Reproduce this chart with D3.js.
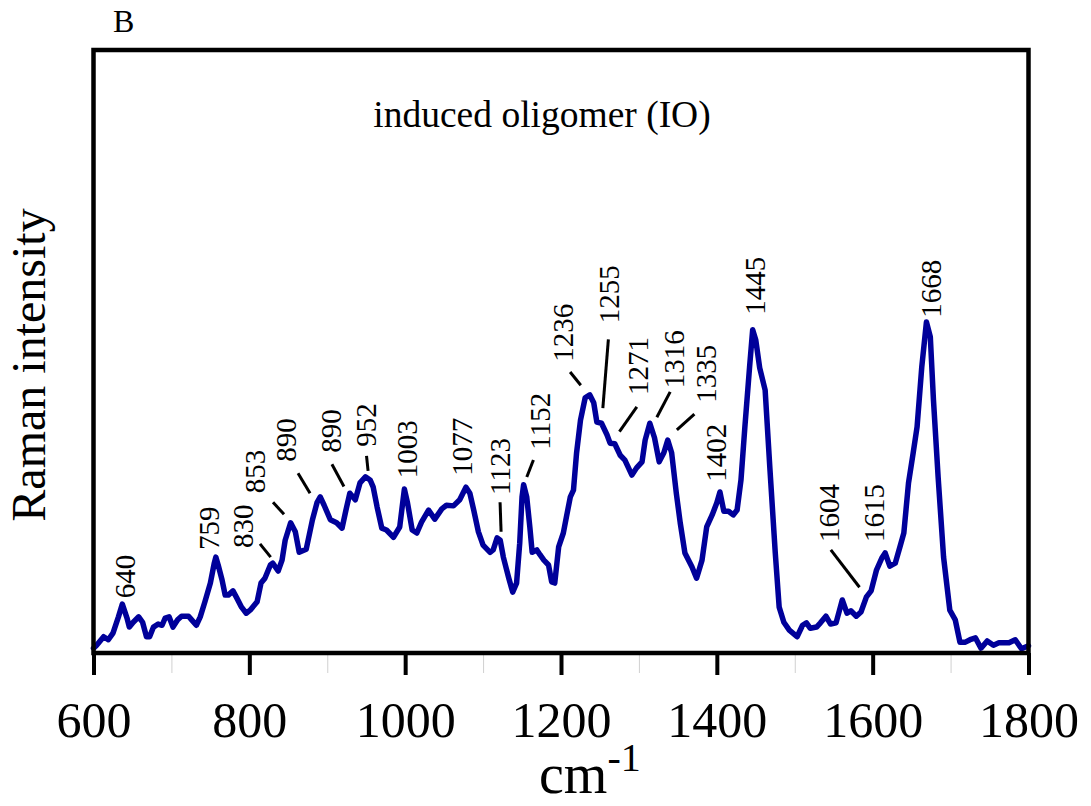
<!DOCTYPE html>
<html>
<head>
<meta charset="utf-8">
<script src="https://cdn.jsdelivr.net/npm/d3@7"></script>
<style>
  html, body { margin: 0; padding: 0; background: #fff; }
  svg { display: block; }
</style>
</head>
<body>
<svg id="chart" width="1091" height="806"></svg>
<script>
// Raman spectrum of the induced oligomer (IO): wavenumber (cm-1) and intensity (a.u.)
const wavenumber = [600,604,613,619,625,632,637,643,646,651,
  658,663,668,672,677,683,688,692,697,702,
  708,713,722,726,732,737,743,750,755,757,
  760,765,769,773,779,784,790,796,801,810,
  815,820,827,830,837,842,846,853,859,864,
  873,881,887,891,896,904,912,919,924,929,
  936,942,949,955,959,964,970,976,985,993,
  999,1003,1009,1015,1021,1030,1038,1047,1053,1062,
  1070,1078,1083,1088,1094,1100,1109,1113,1118,1122,
  1126,1133,1138,1143,1147,1150,1152,1156,1160,1163,
  1169,1173,1178,1184,1188,1192,1197,1203,1207,1212,
  1216,1220,1225,1231,1237,1242,1246,1252,1259,1263,
  1269,1276,1282,1291,1297,1304,1308,1314,1320,1326,
  1332,1337,1342,1348,1353,1359,1368,1374,1381,1387,
  1394,1400,1404,1409,1415,1421,1426,1431,1436,1442,
  1446,1450,1455,1462,1468,1475,1480,1486,1493,1503,
  1510,1515,1520,1528,1533,1540,1546,1553,1561,1567,
  1572,1579,1585,1592,1598,1605,1612,1616,1622,1629,
  1635,1640,1646,1652,1657,1663,1669,1674,1678,1684,
  1691,1699,1706,1712,1719,1725,1732,1739,1747,1755,
  1762,1775,1783,1791,1800];

const intensity = [0.8,1.3,2.7,2.2,3.3,6.0,8.1,5.8,4.3,5.1,
  6.0,5.1,2.7,2.7,4.3,4.8,4.6,5.8,6.0,4.3,
  5.5,6.1,6.1,5.5,4.6,6.0,8.5,11.6,14.9,15.9,
  14.6,12.1,9.6,9.6,10.3,9.1,7.6,6.6,7.1,8.5,
  11.6,12.4,14.6,14.9,13.6,15.4,18.7,21.6,20.1,16.7,
  17.2,22.1,25.0,25.9,24.5,22.1,21.6,20.7,23.7,26.5,
  25.4,28.2,29.2,28.7,27.5,24.2,20.7,20.4,19.2,20.9,
  27.2,24.9,20.4,19.9,21.7,23.7,22.2,23.9,24.5,24.4,
  25.4,27.5,26.5,23.7,20.1,17.9,16.7,17.1,19.1,18.7,
  15.9,12.4,10.1,11.6,18.2,25.9,27.9,25.9,20.9,16.7,
  17.1,16.3,15.4,14.6,11.8,11.6,17.6,19.9,22.6,25.9,
  27.0,33.2,38.6,42.3,42.8,41.5,38.3,38.1,36.2,34.8,
  34.7,32.8,32.0,29.5,30.7,31.7,35.3,38.1,35.7,31.7,
  33.2,35.3,33.2,26.5,21.6,16.6,14.3,12.4,15.4,20.9,
  22.9,24.9,26.7,23.5,23.5,22.9,23.7,28.7,37.5,47.4,
  53.6,51.9,47.3,43.6,30.8,16.6,7.6,5.1,3.8,2.7,
  4.6,5.0,4.1,4.3,5.0,6.1,4.8,5.0,8.8,6.6,
  7.0,6.1,6.8,9.3,10.3,13.8,15.8,16.6,14.4,14.9,
  17.6,19.9,28.2,33.2,37.5,47.4,54.9,52.4,42.0,29.2,
  15.9,7.1,5.5,1.8,1.8,2.2,2.5,0.8,2.0,1.3,
  1.7,1.7,2.2,0.7,1.2];

// Axis ticks
const majorTicks = [600, 800, 1000, 1200, 1400, 1600, 1800];
const minorTicks = [700, 900, 1100, 1300, 1500, 1700];

// Peak assignments and where their labels sit (wavenumber, intensity)
const peakLabels = ["640","759","830","853","890","890","952","1003","1077","1123","1152",
  "1236","1255","1271","1316","1335","1402","1445","1604","1615","1668"];
const labelAnchor = [[640,9.1],[748,17.1],[792,17.4],[807,26.5],[847,31.7],[904,33.2],
  [950,34.2],[1002,29.0],[1073,29.4],[1122,26.2],[1173,33.7],[1203,48.3],[1262,54.7],
  [1298,42.8],[1345,43.9],[1386,41.5],[1399,28.4],[1449,56.1],[1544,18.4],[1602,18.4],[1675,55.6]];

// Leader lines from labels to peaks: [x1, y1, x2, y2] in data units
const leaders = [[813.7,18.1,827.4,15.9],[830.4,25.0,844.5,23.0],[862.5,29.8,877.9,26.5],
  [906,31.3,921.4,27.6],[950.4,32.7,952.4,30.2],[1121.8,25.0,1123.1,20.1],
  [1164.6,32.0,1156.1,29.2],[1211.7,46.6,1225.4,44.4],[1260.8,52.0,1253.7,40.6],
  [1297.3,40.8,1275.0,36.7],[1340.1,43.3,1323.0,39.1],[1371.2,39.6,1348.7,37.0],
  [1546.3,17.1,1583.1,10.9]];

const serif = "'Liberation Serif', 'Times New Roman', Times, serif";
const svg = d3.select("#chart");
const frame = { left: 93.5, right: 1028.5, top: 50, bottom: 653 };

const x = d3.scaleLinear().domain([600, 1800]).range([frame.left, frame.right]);
const y = d3.scaleLinear().domain([0, 100]).range([frame.bottom, frame.top]);

// Minor ticks (faint)
svg.append("g")
  .attr("transform", `translate(0,${frame.bottom})`)
  .call(d3.axisBottom(x).tickValues(minorTicks).tickSize(20).tickFormat(""))
  .call(g => g.select(".domain").remove())
  .call(g => g.selectAll("line").attr("stroke", "#d0d0d0").attr("stroke-width", 1));

// Major ticks with labels
svg.append("g")
  .attr("transform", `translate(0,${frame.bottom})`)
  .call(d3.axisBottom(x).tickValues(majorTicks).tickSize(22).tickPadding(26).tickFormat(d3.format("d")))
  .attr("font-family", serif)
  .attr("font-size", 50)
  .call(g => g.select(".domain").remove())
  .call(g => g.selectAll("line").attr("stroke", "#000").attr("stroke-width", 4))
  .call(g => g.selectAll("text").attr("fill", "#000"));

// Spectrum
const points = d3.zip(wavenumber, intensity);
svg.append("path")
  .datum(points)
  .attr("fill", "none")
  .attr("stroke", "#00009a")
  .attr("stroke-width", 5.5)
  .attr("stroke-linejoin", "round")
  .attr("stroke-linecap", "round")
  .attr("d", d3.line().x(d => x(d[0])).y(d => y(d[1])));

// Plot frame
svg.append("rect")
  .attr("x", frame.left).attr("y", frame.top)
  .attr("width", frame.right - frame.left).attr("height", frame.bottom - frame.top)
  .attr("fill", "none").attr("stroke", "#000").attr("stroke-width", 4.5);

// Leader lines
svg.append("g").selectAll("line")
  .data(leaders)
  .join("line")
  .attr("x1", d => x(d[0])).attr("y1", d => y(d[1]))
  .attr("x2", d => x(d[2])).attr("y2", d => y(d[3]))
  .attr("stroke", "#000").attr("stroke-width", 3);

// Peak labels, rotated
svg.append("g")
  .attr("font-family", serif)
  .attr("font-size", 29)
  .selectAll("text")
  .data(peakLabels)
  .join("text")
  .attr("transform", (d, i) => `translate(${x(labelAnchor[i][0])},${y(labelAnchor[i][1])}) rotate(-90)`)
  .attr("dy", "0.35em")
  .text(d => d);

// Panel letter and sample name
svg.append("text").attr("x", 113).attr("y", 32)
  .attr("font-family", serif).attr("font-size", 32).text("B");
svg.append("text").attr("x", 542).attr("y", 127).attr("text-anchor", "middle")
  .attr("font-family", serif).attr("font-size", 37.5).text("induced oligomer (IO)");

// Axis titles
svg.append("text")
  .attr("transform", "translate(45,365) rotate(-90)")
  .attr("text-anchor", "middle")
  .attr("font-family", serif)
  .attr("font-size", 48)
  .text("Raman intensity");

const xt = svg.append("text").attr("x", 539).attr("y", 793)
  .attr("font-family", serif).attr("font-size", 56);
xt.append("tspan").text("cm");
xt.append("tspan").attr("dy", -22).attr("font-size", 40).text("-1");
</script>
</body>
</html>
